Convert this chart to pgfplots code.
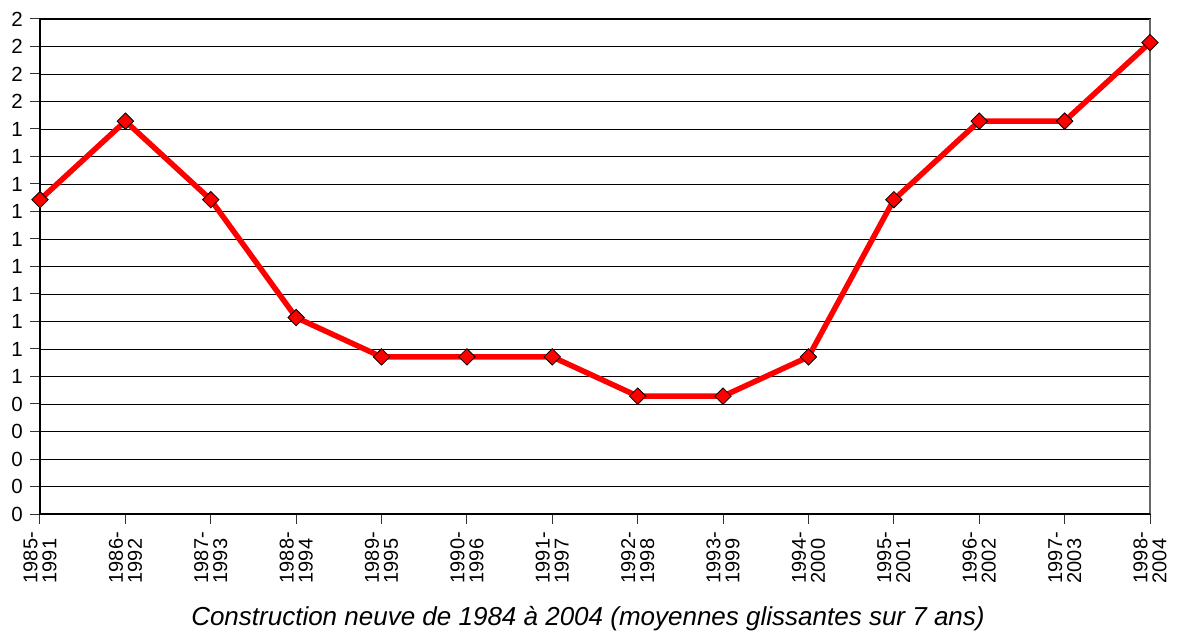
\documentclass[border=0pt]{standalone}
\usepackage{pgfplots}
\pgfplotsset{compat=1.18}
\usepackage{fontspec}
\setmainfont{Liberation Sans}
\begin{document}
\begin{tikzpicture}
\begin{axis}[
  scale only axis, width=1110pt, height=495pt,
  xmin=0, xmax=13, ymin=0, ymax=1.8,
  xtick={0,1,2,3,4,5,6,7,8,9,10,11,12,13},
  xticklabels={{1985-\\1991},{1986-\\1992},{1987-\\1993},{1988-\\1994},{1989-\\1995},{1990-\\1996},{1991-\\1997},{1992-\\1998},{1993-\\1999},{1994-\\2000},{1995-\\2001},{1996-\\2002},{1997-\\2003},{1998-\\2004}},
  xticklabel style={rotate=90, anchor=east, align=left, font=\fontsize{20}{19}\selectfont, inner xsep=8pt, inner ysep=0pt},
  ytick={0,0.1,0.2,0.3,0.4,0.5,0.6,0.7,0.8,0.9,1.0,1.1,1.2,1.3,1.4,1.5,1.6,1.7,1.8},
  yticklabels={0,0,0,0,0,1,1,1,1,1,1,1,1,1,1,2,2,2,2},
  yticklabel style={font=\fontsize{20.5}{22}\selectfont, inner xsep=7pt, inner ysep=0pt},
  /pgf/number format/assume math mode=true,
  ymajorgrids, grid style={black, line width=0.9pt},
  axis line style={black, line width=1.3pt},
  tick align=outside, major tick length=10pt,
  tick style={black!80, line width=1pt},
  xtick pos=left, ytick pos=left,
  xlabel={Construction neuve de 1984 à 2004 (moyennes glissantes sur 7 ans)},
  xlabel style={font=\fontsize{26}{28}\selectfont\itshape, inner sep=0pt, yshift=-15pt, xshift=-7pt},
  clip=false,
]
\addplot[red, line width=5.5pt, mark=square*, mark size=5.8pt,
  mark options={fill=red, draw=black, line width=0.8pt, rotate=45}]
coordinates {
(0,1.142857) (1,1.428571) (2,1.142857) (3,0.714286) (4,0.571429)
(5,0.571429) (6,0.571429) (7,0.428571) (8,0.428571) (9,0.571429)
(10,1.142857) (11,1.428571) (12,1.428571) (13,1.714286)
};
\draw[gray!80!black, line width=1.3pt] (rel axis cs:1,0) -- (rel axis cs:1,1);
\draw[black, line width=2pt] (rel axis cs:0,0) -- (rel axis cs:1,0);
\coordinate (O) at (rel axis cs:0,0);
\coordinate (T) at (rel axis cs:1,1);
\end{axis}
\pgfresetboundingbox
\path ([shift={(-40pt,-117pt)}]O) rectangle ([shift={(28pt,19pt)}]T);
\end{tikzpicture}
\end{document}
